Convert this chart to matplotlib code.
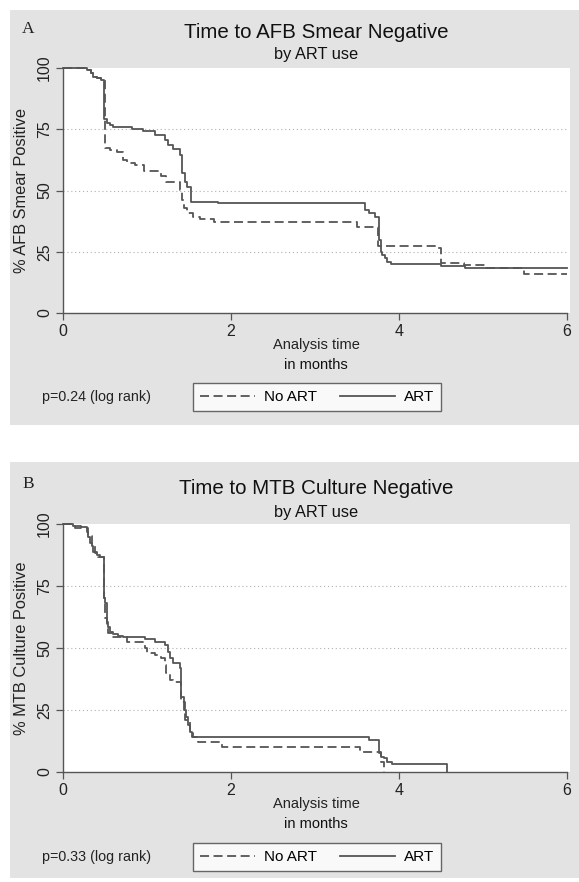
import matplotlib
matplotlib.use("Agg")
import matplotlib.pyplot as plt
from matplotlib.patches import Rectangle
from matplotlib.lines import Line2D

plt.rcParams['font.family'] = ['Liberation Sans', 'DejaVu Sans']

# ---------------- data ----------------
# Panel A: AFB smear
a_art_t = [0, 0.28, 0.33, 0.36, 0.41, 0.45, 0.49, 0.52, 0.56, 0.60, 0.82, 0.95, 1.10, 1.21, 1.25,
           1.31, 1.39, 1.42, 1.45, 1.48, 1.52, 1.85, 3.60, 3.64, 3.72, 3.76, 3.78, 3.80, 3.83, 3.86,
           3.90, 4.50, 4.79, 6.0]
a_art_s = [100, 99, 98, 96.5, 95.8, 95, 79, 77.7, 76.7, 76, 75, 74.4, 72.6, 70.6, 68.6,
           66.9, 64.5, 57, 53.6, 51.6, 45.4, 44.8, 42, 40.9, 39.3, 30, 25, 23.7, 22.4, 21,
           20, 19.2, 18.2, 18.2]
a_no_t = [0, 0.28, 0.33, 0.36, 0.41, 0.45, 0.50, 0.56, 0.64, 0.72, 0.76, 0.86, 0.96, 1.17, 1.23,
          1.39, 1.42, 1.44, 1.48, 1.55, 1.63, 1.80, 3.50, 3.75, 4.45, 4.50, 4.77, 5.04, 5.49, 6.0]
a_no_s = [100, 99, 98, 96.5, 95.8, 95, 67.5, 66.5, 65.8, 62.4, 61.3, 60.4, 57.8, 56, 53.6,
          50.2, 46, 42.8, 40.8, 39.3, 38.2, 37, 35, 27.3, 26.5, 20.5, 19.6, 18.2, 16, 16]

# Panel B: MTB culture
b_art_t = [0, 0.12, 0.22, 0.28, 0.30, 0.32, 0.34, 0.36, 0.40, 0.44, 0.49, 0.50, 0.52, 0.54, 0.56,
           0.60, 0.66, 0.72, 0.98, 1.10, 1.21, 1.25, 1.27, 1.31, 1.39, 1.41, 1.44, 1.46, 1.49,
           1.51, 1.53, 3.64, 3.76, 3.78, 3.82, 3.86, 3.92, 4.57]
b_art_s = [100, 99.2, 98.9, 96.9, 94.9, 92.3, 91.1, 88.8, 87.5, 86.8, 70, 68, 60.6, 58.6, 56.6,
           55.6, 54.8, 54.3, 53.5, 52.5, 51.2, 48.5, 45.8, 43.8, 41.8, 30.4, 25, 22.3, 18.9,
           16.3, 14, 12.9, 7.7, 6.2, 5.6, 4.2, 3.2, 0]
b_no_t = [0, 0.14, 0.30, 0.34, 0.38, 0.42, 0.49, 0.50, 0.52, 0.54, 0.58, 0.76, 0.98, 1.00, 1.10,
          1.17, 1.21, 1.23, 1.27, 1.31, 1.41, 1.45, 1.51, 1.55, 1.61, 1.89, 3.54, 3.78, 3.82]
b_no_s = [100, 98.4, 95, 91, 88.3, 86.5, 70, 62, 58, 56, 54.6, 52.5, 49.9, 47.9, 47.2,
          45.8, 43.1, 39.8, 37.1, 36.4, 28.3, 21, 15.6, 14, 12.2, 10.2, 8.2, 4.2, 0]

x_ticks = [0, 2, 4, 6]
y_ticks = [0, 25, 50, 75, 100]

panels = [
    dict(letter="A", title="Time to AFB Smear Negative", sub="by ART use",
         ylabel="% AFB Smear Positive", p="p=0.24 (log rank)",
         art=(a_art_t, a_art_s), no=(a_no_t, a_no_s),
         bg=(10, 425), ax=(68, 313), title_y=32, sub_y=55, letter_y=29,
         xl1=345, xl2=365, leg_y=397),
    dict(letter="B", title="Time to MTB Culture Negative", sub="by ART use",
         ylabel="% MTB Culture Positive", p="p=0.33 (log rank)",
         art=(b_art_t, b_art_s), no=(b_no_t, b_no_s),
         bg=(462, 878), ax=(524, 772), title_y=488, sub_y=512, letter_y=484,
         xl1=804, xl2=824, leg_y=857),
]

W, H = 579, 882
fig = plt.figure(figsize=(W / 100, H / 100), dpi=100)
fig.patch.set_facecolor("white")

def fx(px):
    return px / W

def fy(py):
    return 1 - py / H

line_col = "#555555"
x0, x1 = 63, 567

for P in panels:
    top_bg, bot_bg = P["bg"]
    fig.patches.append(Rectangle((fx(10), fy(bot_bg)), fx(579) - fx(10), fy(top_bg) - fy(bot_bg),
                                 transform=fig.transFigure, facecolor="#e3e3e3",
                                 edgecolor="none", zorder=-10))
    ytop, ybot = P["ax"]
    fig.patches.append(Rectangle((fx(x0), fy(ybot)), fx(570) - fx(x0), fy(ytop) - fy(ybot),
                                 transform=fig.transFigure, facecolor="white",
                                 edgecolor="none", zorder=-9))
    ax = fig.add_axes([fx(x0), fy(ybot), fx(x1) - fx(x0), fy(ytop) - fy(ybot)])
    ax.patch.set_alpha(0)
    ax.set_xlim(0, 6)
    ax.set_ylim(0, 100)
    for yv in [25, 50, 75]:
        ax.axhline(yv, color="#b0b0b0", lw=0.8, ls=(0, (1, 2.5)), zorder=1)
    ax.step(P["no"][0], P["no"][1], where="post", color=line_col, lw=1.3,
            ls=(0, (5, 2.5)), clip_on=False, zorder=3)
    ax.step(P["art"][0], P["art"][1], where="post", color=line_col, lw=1.3,
            clip_on=False, zorder=3)
    for s in ["top", "right"]:
        ax.spines[s].set_visible(False)
    for s in ["left", "bottom"]:
        ax.spines[s].set_color("#555555")
        ax.spines[s].set_linewidth(1.0)
    ax.set_xticks(x_ticks)
    ax.set_yticks(y_ticks)
    ax.set_xticklabels([str(v) for v in x_ticks])
    ax.set_yticklabels([str(v) for v in y_ticks], rotation=90, va="center")
    ax.tick_params(axis="both", direction="out", length=5, width=0.9, color="#555555",
                   labelsize=11.5, labelcolor="#222222", pad=3)
    fig.text(fx(28), fy(P["letter_y"]), P["letter"], family=["Liberation Serif", "DejaVu Serif"],
             fontsize=12.5, ha="center", va="center", color="#222222")
    fig.text(fx(316), fy(P["title_y"]), P["title"], fontsize=14.8, ha="center", va="center",
             color="#111111")
    fig.text(fx(316), fy(P["sub_y"]), P["sub"], fontsize=11.8, ha="center", va="center",
             color="#111111")
    fig.text(fx(22), fy((ytop + ybot) / 2), P["ylabel"], fontsize=11.8, rotation=90,
             ha="center", va="center", color="#222222")
    fig.text(fx(316), fy(P["xl1"]), "Analysis time", fontsize=10.5, ha="center", va="center",
             color="#222222")
    fig.text(fx(316), fy(P["xl2"]), "in months", fontsize=10.5, ha="center", va="center",
             color="#111111")
    fig.text(fx(42), fy(P["leg_y"]), P["p"], fontsize=10.3, ha="left", va="center",
             color="#222222")
    handles = [Line2D([], [], color=line_col, lw=1.3, ls=(0, (5, 2.5))),
               Line2D([], [], color=line_col, lw=1.3)]
    leg = fig.legend(handles, ["No ART", "ART"], loc="center",
                     bbox_to_anchor=(fx(317), fy(P["leg_y"])), ncol=2, frameon=True,
                     fancybox=False, edgecolor="#444444", fontsize=11, handlelength=3.6,
                     columnspacing=1.5, handletextpad=0.6, borderpad=0.45,
                     borderaxespad=0)
    leg.get_frame().set_linewidth(1.0)
    leg.get_frame().set_facecolor("white")

fig.savefig("out.png", dpi=100, facecolor="white")
